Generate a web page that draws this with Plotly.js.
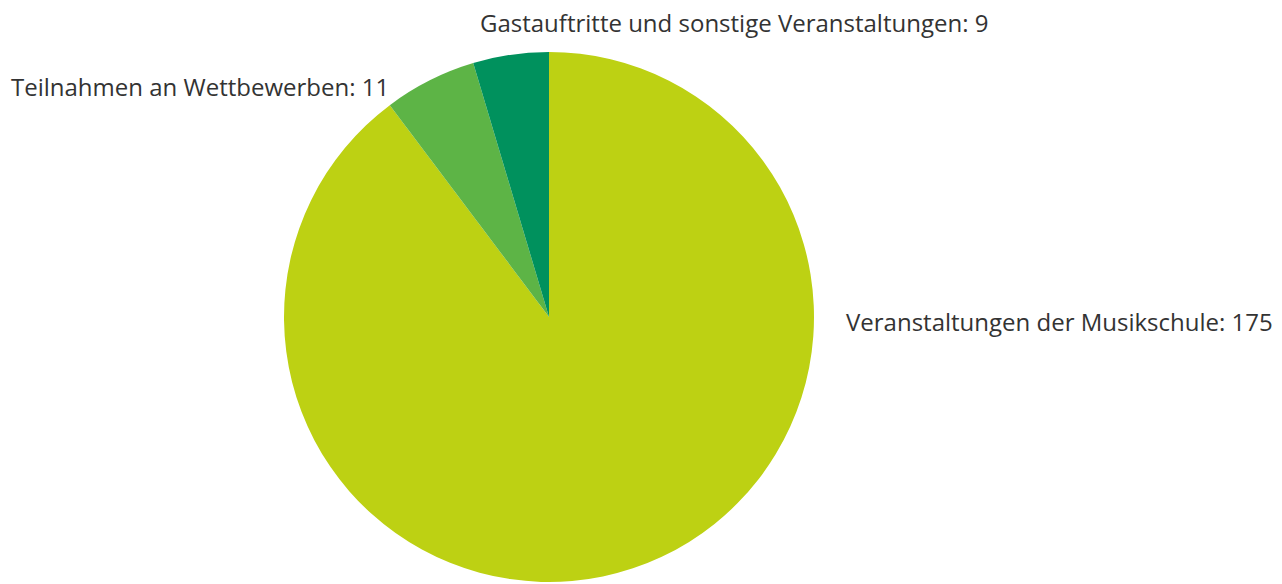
<!DOCTYPE html>
<html>
<head>
<meta charset="utf-8">
<script src="https://cdn.plot.ly/plotly-3.0.1.min.js"></script>
<style>html,body{margin:0;padding:0;background:#fff;}#chart{width:1282px;height:584px;}</style>
</head>
<body>
<div id="chart"></div>
<script>
var categories = ["Veranstaltungen der Musikschule", "Teilnahmen an Wettbewerben", "Gastauftritte und sonstige Veranstaltungen"];
var counts = [175, 11, 9];
var sliceColors = ["#BDD113", "#5DB446", "#00915D"];

// label anchor positions in pixels (left edge, vertical centre)
var labelPos = [[844, 321], [9, 86], [478, 22]];
var W = 1282, H = 584;

var annotations = categories.map(function (c, i) {
  return {
    text: c + ": " + counts[i],
    xref: "paper", yref: "paper",
    x: labelPos[i][0] / W, y: 1 - labelPos[i][1] / H,
    xanchor: "left", yanchor: "middle",
    showarrow: false,
    font: {family: "'Open Sans', sans-serif", size: 24, color: "#333333"}
  };
});

var cx = 549, cy = 317, r = 265;
var data = [{
  type: "pie",
  labels: categories,
  values: counts,
  sort: false,
  direction: "clockwise",
  rotation: 0,
  textinfo: "none",
  hoverinfo: "label+value",
  marker: {colors: sliceColors, line: {width: 0}},
  domain: {x: [(cx - r) / W, (cx + r) / W], y: [1 - (cy + r) / H, 1 - (cy - r) / H]}
}];

var layout = {
  width: W, height: H,
  margin: {l: 0, r: 0, t: 0, b: 0},
  showlegend: false,
  paper_bgcolor: "#ffffff",
  annotations: annotations
};

Plotly.newPlot("chart", data, layout, {displayModeBar: false, staticPlot: true});
</script>
</body>
</html>
